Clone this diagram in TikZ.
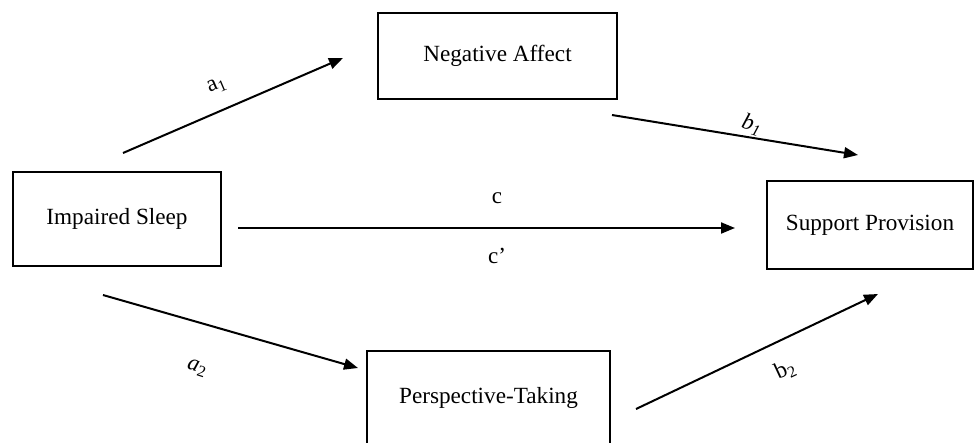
\documentclass[tikz,border=0pt]{standalone}
\usepackage{fontspec}
\setmainfont{Liberation Serif}
\usetikzlibrary{arrows.meta}
\begin{document}
\begin{tikzpicture}[x=1pt,y=-1pt,
  box/.style={draw, line width=1.3pt, inner sep=0pt, font=\fontsize{23.2}{27}\selectfont},
  arr/.style={line width=2pt, -{Triangle[length=14pt,width=11pt]}},
  lbl/.style={font=\fontsize{23}{27}\selectfont, inner sep=0pt}]
\useasboundingbox (0,0) rectangle (974,442);
\node[box, minimum width=208pt, minimum height=94pt] (is) at (117,219) {Impaired Sleep};
\node[box, minimum width=206pt, minimum height=88pt] (sp) at (870,225) {Support Provision};
\node[box, minimum width=239pt, minimum height=86pt] (na) at (497.5,56) {Negative Affect};
\node[box, minimum width=243pt, minimum height=94pt] (pt) at (488.5,398) {Perspective-Taking};
\coordinate (a1s) at (123,153);
\coordinate (a1e) at (343,58);
\coordinate (b1s) at (612,115);
\coordinate (b1e) at (858,155);
\coordinate (cs) at (238,228);
\coordinate (ce) at (735,228);
\coordinate (a2s) at (103,295);
\coordinate (a2e) at (358,368);
\coordinate (b2s) at (636,409);
\coordinate (b2e) at (878,294);
\draw[arr] (a1s) -- (a1e);
\draw[arr] (b1s) -- (b1e);
\draw[arr] (cs) -- (ce);
\draw[arr] (a2s) -- (a2e);
\draw[arr] (b2s) -- (b2e);
\node[lbl, rotate=23] (la1) at (217,86) {a\textsubscript{1}};
\node[lbl, rotate=-18] (lb1) at (752,125) {\textit{b\textsubscript{1}}};
\node[lbl] (lc) at (497,198) {c};
\node[lbl] (lcp) at (497,256) {c’};
\node[lbl, rotate=-18] (la2) at (197,368) {\textit{a}\textsubscript{2}};
\node[lbl, rotate=25] (lb2) at (785,370) {b\textsubscript{2}};
\end{tikzpicture}
\end{document}
